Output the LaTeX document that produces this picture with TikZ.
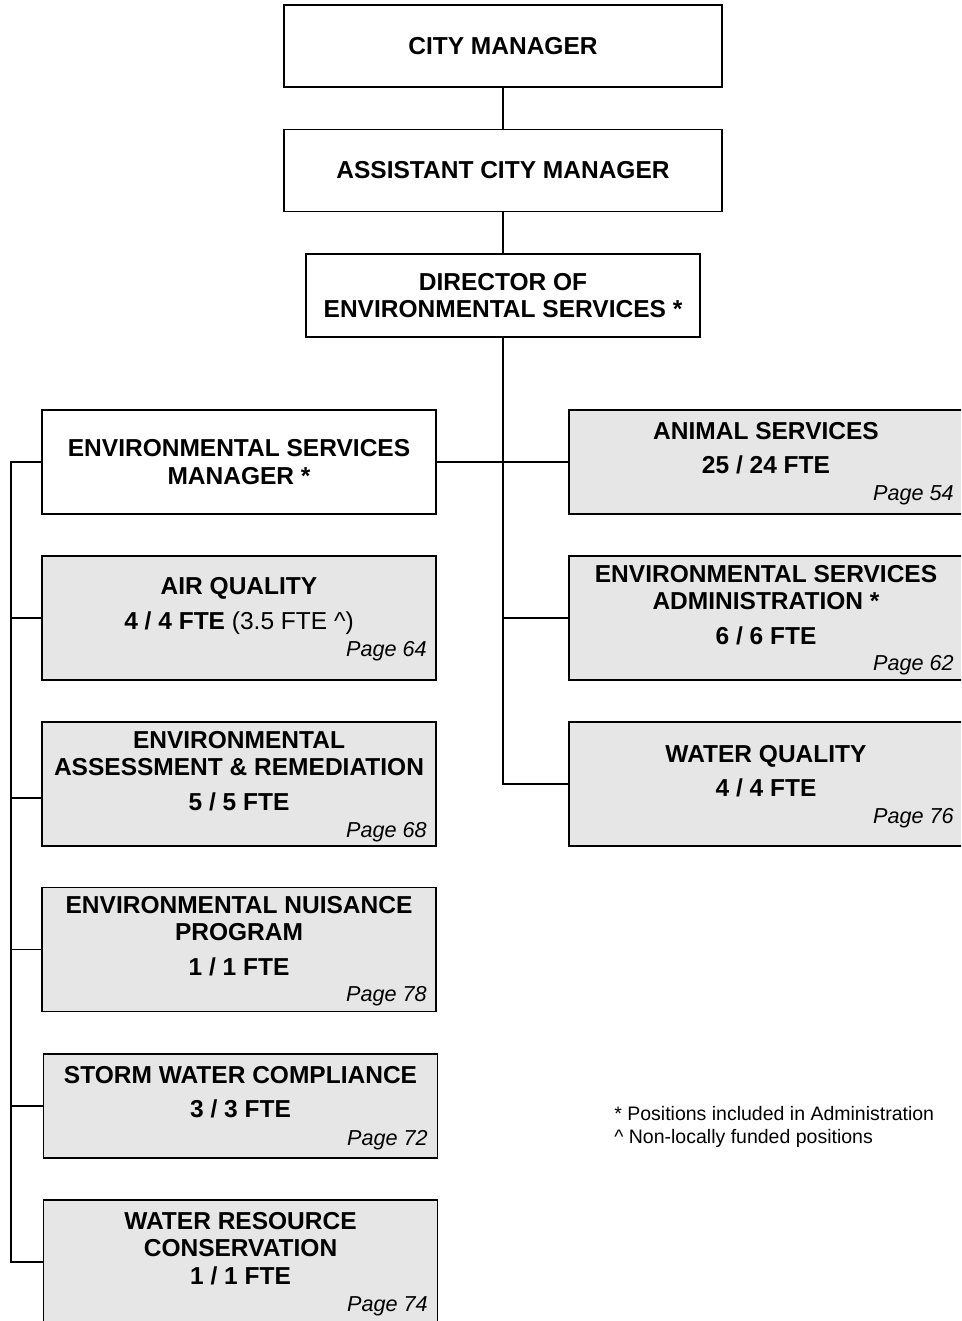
\documentclass[tikz,border=0pt]{standalone}
\usepackage{fontspec}
\setmainfont{Liberation Sans}
\usetikzlibrary{positioning}
\definecolor{unitgray}{HTML}{E6E6E6}

\begin{document}
\begin{tikzpicture}[x=0.02cm, y=-0.02cm,
    office/.style={draw=black, line width=0.8pt, fill=white, minimum width=7.88cm, minimum height=2.08cm, inner sep=0pt, align=center, font=\fontsize{13.95}{15.7}\selectfont\bfseries},
    unit/.style={office, fill=unitgray, minimum height=2.48cm},
    head/.style={inner sep=0pt, align=center, font=\fontsize{13.95}{15.7}\selectfont\bfseries},
    pg/.style={inner sep=0pt, anchor=east, font=\fontsize{12.3}{14}\selectfont\itshape},
    link/.style={line width=0.7pt}]
  \useasboundingbox (0,0) rectangle (961,1321);
  \clip (0,0) rectangle (961,1321);

  % chain of command
  \node[office, minimum width=8.76cm, minimum height=1.64cm] (city) at (503,46) {CITY MANAGER};
  \node[office, minimum width=8.76cm, minimum height=1.64cm] (asst) at (503,170.5) {ASSISTANT CITY MANAGER};
  \node[office, minimum height=1.66cm] (dir) at (503,295.5) {DIRECTOR OF\\ENVIRONMENTAL SERVICES *};
  \node[office] (esm) at (239,462) {ENVIRONMENTAL SERVICES\\MANAGER *};

  % right column
  \node[unit, minimum height=2.08cm] (anim) at (766,462) {};
  \node[head] (animT) at (766,448) {ANIMAL SERVICES\\[3.8pt]25 / 24 FTE};
  \node[pg] (animP) at (954,495) {Page 54};
  \node[unit] (esa) at (766,618) {};
  \node[head] (esaT) at (766,605) {ENVIRONMENTAL SERVICES\\ADMINISTRATION *\\[3.8pt]6 / 6 FTE};
  \node[pg] (esaP) at (954,665) {Page 62};
  \node[unit] (wq) at (766,784) {};
  \node[head] (wqT) at (766,771.5) {WATER QUALITY\\[3.8pt]4 / 4 FTE};
  \node[pg] (wqP) at (954,818) {Page 76};

  % left column
  \node[unit] (aq) at (239,618) {};
  \node[head] (aqT) at (239,606) {AIR QUALITY\\[3.8pt]4 / 4 FTE \mdseries(3.5 FTE \^{})};
  \node[pg] (aqP) at (427,651) {Page 64};
  \node[unit] (ear) at (239,784) {};
  \node[head] (earT) at (239,771) {ENVIRONMENTAL\\ASSESSMENT \& REMEDIATION\\[3.8pt]5 / 5 FTE};
  \node[pg] (earP) at (427,832) {Page 68};
  \node[unit] (enp) at (239,949.5) {};
  \node[head] (enpT) at (239,936) {ENVIRONMENTAL NUISANCE\\PROGRAM\\[3.8pt]1 / 1 FTE};
  \node[pg] (enpP) at (427,996) {Page 78};
  \node[unit, minimum height=2.08cm] (swc) at (240.5,1106) {};
  \node[head] (swcT) at (240.5,1092) {STORM WATER COMPLIANCE\\[3.8pt]3 / 3 FTE};
  \node[pg] (swcP) at (428,1140) {Page 72};
  \node[unit] (wrc) at (240.5,1262) {};
  \node[head] (wrcT) at (240.5,1248.5) {WATER RESOURCE\\CONSERVATION\\1 / 1 FTE};
  \node[pg] (wrcP) at (428,1306) {Page 74};

  % notes
  \node[inner sep=0pt, anchor=west, align=left, font=\fontsize{11.1}{12.9}\selectfont] (notes) at (614,1127)
    {* Positions included in Administration\\\^{} Non-locally funded positions};

  % connectors
  \coordinate (trunk) at (503,784);
  \coordinate (rail) at (11,462);
  \coordinate (earJ) at (42,798);
  \draw[link] (city) -- (asst);
  \draw[link] (asst) -- (dir);
  \draw[link] (dir.south) -- (trunk) -- (wq.west);
  \draw[link] (esm.east) -- (anim.west);
  \draw[link] (trunk |- esa.west) -- (esa.west);
  \draw[link] (esm.west) -- (rail) |- (wrc.west);
  \foreach \n in {aq,enp,swc}
    \draw[link] (rail |- \n.west) -- (\n.west);
  \draw[link] (rail |- earJ) -- (earJ);
\end{tikzpicture}
\end{document}
